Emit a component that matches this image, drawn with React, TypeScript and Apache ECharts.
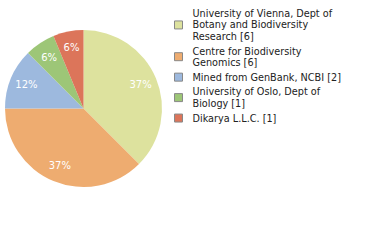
import React, { useEffect, useRef } from "react";
import * as echarts from "echarts";

const categories = [
  "University of Vienna, Dept of Botany and Biodiversity Research",
  "Centre for Biodiversity Genomics",
  "Mined from GenBank, NCBI",
  "University of Oslo, Dept of Biology",
  "Dikarya L.L.C.",
];
const legendLines = [
  "University of Vienna, Dept of\nBotany and Biodiversity\nResearch",
  "Centre for Biodiversity\nGenomics",
  "Mined from GenBank, NCBI",
  "University of Oslo, Dept of\nBiology",
  "Dikarya L.L.C.",
];
const values = [6, 6, 2, 1, 1];
const colors = ["#dde29e", "#eeac70", "#9db9de", "#9dc677", "#dc755a"];

export default function App() {
  const ref = useRef<HTMLDivElement>(null);
  useEffect(() => {
    document.body.style.margin = "0";
    const chart = echarts.init(ref.current!, null, { renderer: "svg" });
    const total = values.reduce((a, b) => a + b, 0);
    const data = categories.map((name, i) => ({
      name,
      value: values[i],
      itemStyle: { color: colors[i] },
    }));
    chart.setOption({
      animation: false,
      legend: {
        orient: "vertical",
        left: 169,
        top: 3,
        itemWidth: 8,
        itemHeight: 8,
        itemGap: 3.5,
        icon: "rect",
        itemStyle: { borderColor: "#888", borderWidth: 1 },
        textStyle: {
          fontFamily: "DejaVu Sans",
          fontSize: 9.7,
          color: "#222",
          lineHeight: 11.3,
          padding: [0, 0, 0, 5],
        },
        formatter: (name: string) => {
          const i = categories.indexOf(name);
          return legendLines[i] + " [" + values[i] + "]";
        },
        data: categories,
      },
      series: [
        {
          type: "pie",
          center: [83.5, 108.5],
          radius: 78.5,
          startAngle: 90,
          clockwise: true,
          label: { show: false },
          labelLine: { show: false },
          emphasis: { disabled: true },
          data,
        },
        {
          type: "pie",
          center: [83.5, 108.5],
          radius: [39, 78.5],
          startAngle: 90,
          clockwise: true,
          silent: true,
          label: {
            show: true,
            position: "inside",
            color: "#fff",
            fontFamily: "DejaVu Sans",
            fontSize: 10,
            formatter: (p: any) => Math.floor((p.value / total) * 100) + "%",
          },
          labelLine: { show: false },
          emphasis: { disabled: true },
          data: categories.map((name, i) => ({
            name,
            value: values[i],
            itemStyle: { color: "rgba(0,0,0,0)" },
          })),
        },
      ],
    });
    return () => chart.dispose();
  }, []);
  return <div ref={ref} style={{ width: 380, height: 240 }} />;
}
